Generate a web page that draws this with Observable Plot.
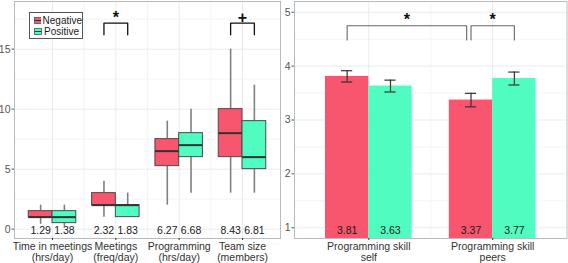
<!DOCTYPE html>
<html><head><meta charset="utf-8">
<script src="https://cdn.jsdelivr.net/npm/d3@7"></script>
<script src="https://cdn.jsdelivr.net/npm/@observablehq/plot@0.6"></script>
<style>
body{margin:0;background:#fff;font-family:"Liberation Sans",Arial,sans-serif;}
#wrap{position:relative;width:568px;height:263px;display:flex;}
#wrap svg{display:block;}
.legend{position:absolute;left:29px;top:12px;width:52px;height:25px;border:1px solid #555;background:#fff;font-size:10px;color:#1a1a1a;padding:0;box-sizing:content-box;}
.legend .row{display:flex;align-items:center;height:11px;margin-left:4px;}
.legend .row:first-child{margin-top:2px;}
.legend svg{margin-right:2px;}
</style></head>
<body><div id="wrap"></div>
<script>
// ---------- data ----------
const groups = ["Negative", "Positive"];
const colors = ["#f8556e", "#50fcbf"];

const boxCats = ["Time in meetings\n(hrs/day)", "Meetings\n(freq/day)", "Programming\n(hrs/day)", "Team size\n(members)"];
const negMin = [0.4, 1, 2, 3];
const negQ1  = [1, 2, 5.25, 6];
const negMed = [1, 2, 6.5, 8];
const negQ3  = [1.5, 3, 7.5, 10];
const negMax = [2, 4, 9, 15];
const posMin = [0.2, 1, 3, 3];
const posQ1  = [0.5, 1, 6, 5];
const posMed = [1, 2, 7, 6];
const posQ3  = [1.5, 2, 8, 9];
const posMax = [2, 3, 10, 12];
const negMean = [1.29, 2.32, 6.27, 8.43];
const posMean = [1.38, 1.83, 6.68, 6.81];
const leftTicks = [0, 5, 10, 15];
const leftSig = [{cat: 2, label: "*"}, {cat: 4, label: "+"}];

const barCats = ["Programming skill\nself", "Programming skill\npeers"];
const negVal = [3.81, 3.37];
const posVal = [3.63, 3.77];
const negSE = [0.105, 0.125];
const posSE = [0.11, 0.12];
const rightTicks = [1, 2, 3, 4, 5];
// brackets: [from (cat, side), to (cat, side)], side -1 = Negative, +1 = Positive
const rightSig = [
  {from: [1, -1], to: [2, -1.2], label: "*"},
  {from: [2, -1], to: [2, 1], label: "*"}
];

// ---------- build tables ----------
const BW = 0.375;      // dodge box width (left)
const BARW = 0.35;     // dodge bar width (right)
const boxRows = boxCats.flatMap((c, i) => [
  {pos: i + 1, side: -1, g: 0, min: negMin[i], q1: negQ1[i], med: negMed[i], q3: negQ3[i], max: negMax[i], mean: negMean[i]},
  {pos: i + 1, side: 1, g: 1, min: posMin[i], q1: posQ1[i], med: posMed[i], q3: posQ3[i], max: posMax[i], mean: posMean[i]}
]).map(d => ({...d, cx: d.pos + d.side * BW / 2, xa: d.pos + (d.side < 0 ? -BW : 0), xb: d.pos + (d.side < 0 ? 0 : BW)}));

const barRows = barCats.flatMap((c, i) => [
  {pos: i + 1, side: -1, g: 0, v: negVal[i], se: negSE[i]},
  {pos: i + 1, side: 1, g: 1, v: posVal[i], se: posSE[i]}
]).map(d => ({...d, cx: d.pos + d.side * BARW / 2, xa: d.pos + (d.side < 0 ? -BARW : 0), xb: d.pos + (d.side < 0 ? 0 : BARW)}));

const LY = [-0.78, 18.97];
const RY = [0.8, 5.2];
const minor = (ticks) => ticks.slice(0, -1).map((t, i) => (t + ticks[i + 1]) / 2);

// left brackets
const lBrTop = 17.17, lBrLeg = 16.2, lStar = 17.6;
const leftBr = leftSig.flatMap((s, k) => {
  const a = s.cat - BW / 2, b = s.cat + BW / 2;
  return [[a, lBrLeg], [a, lBrTop], [b, lBrTop], [b, lBrLeg]].map(([x, y]) => ({x, y, k}));
});
const rBrTop = 4.75, rBrLeg = 4.485, rStar = 4.855;
const rightBr = rightSig.flatMap((s, k) => {
  const a = s.from[0] + s.from[1] * BARW / 2, b = s.to[0] + s.to[1] * BARW / 2;
  return [[a, rBrLeg], [a, rBrTop], [b, rBrTop], [b, rBrLeg]].map(([x, y]) => ({x, y, k}));
});
const rightStars = rightSig.map(s => {
  const a = s.from[0] + s.from[1] * BARW / 2, b = s.to[0] + s.to[1] * BARW / 2;
  return {x: (a + b) / 2, label: s.label};
});

const gridMajor = "#e9ebeb", gridMinor = "#f3f4f4";
const style = {fontFamily: "Liberation Sans, Arial, sans-serif", fontSize: "10px", background: "#fff", overflow: "visible"};

const left = Plot.plot({
  width: 282, height: 263,
  marginLeft: 14, marginRight: 2, marginTop: 1, marginBottom: 25,
  style,
  x: {type: "linear", domain: [0.4, 4.6]},
  y: {domain: LY},
  marks: [
    Plot.ruleY(minor([-2.5, ...leftTicks, 20]), {stroke: gridMinor}),
    Plot.ruleX([1.5, 2.5, 3.5], {stroke: gridMinor}),
    Plot.ruleY(leftTicks, {stroke: gridMajor}),
    Plot.ruleX([1, 2, 3, 4], {stroke: gridMajor}),
    Plot.ruleX(boxRows, {x: "cx", y1: "q3", y2: "max", stroke: "#808080", strokeWidth: 1.6}),
    Plot.ruleX(boxRows, {x: "cx", y1: "min", y2: "q1", stroke: "#808080", strokeWidth: 1.6}),
    Plot.rect(boxRows, {x1: "xa", x2: "xb", y1: "q1", y2: "q3", fill: d => colors[d.g], stroke: "#4a4a4a", strokeWidth: 1}),
    Plot.ruleY(boxRows, {x1: "xa", x2: "xb", y: "med", stroke: "#333", strokeWidth: 2}),
    Plot.text(boxRows, {x: "cx", frameAnchor: "bottom", dy: -5, text: d => d.mean.toFixed(2), fontSize: 10.5, fill: "#1a1a1a"}),
    Plot.line(leftBr, {x: "x", y: "y", z: "k", stroke: "#111", strokeWidth: 1.3}),
    Plot.text(leftSig, {x: "cat", y: () => lStar, text: "label", fontSize: 16, fontWeight: "bold", fill: "#111", lineAnchor: "middle"}),
    Plot.frame({stroke: "#b9bcbc"}),
    Plot.axisY({ticks: leftTicks, tickFormat: d => String(d), tickSize: 2.5, tickPadding: 1.5, fontSize: 10.5, color: "#555", label: null}),
    Plot.axisX({ticks: [1, 2, 3, 4], tickFormat: i => boxCats[i - 1], tickSize: 2, tickPadding: 1.5, fontSize: 10.5, lineHeight: 1.05, color: "#333", label: null})
  ]
});

const right = Plot.plot({
  width: 286, height: 263,
  marginLeft: 12, marginRight: 1.5, marginTop: 1, marginBottom: 25,
  style,
  x: {type: "linear", domain: [0.4, 2.6]},
  y: {domain: RY},
  marks: [
    Plot.ruleY(minor(rightTicks), {stroke: gridMinor}),
    Plot.ruleX([1.5], {stroke: gridMinor}),
    Plot.ruleY(rightTicks, {stroke: gridMajor}),
    Plot.ruleX([1, 2], {stroke: gridMajor}),
    Plot.rect(barRows, {x1: "xa", x2: "xb", y1: RY[0], y2: "v", fill: d => colors[d.g]}),
    Plot.ruleX(barRows, {x: "cx", y1: d => d.v - d.se, y2: d => d.v + d.se, stroke: "#333", strokeWidth: 1.2}),
    Plot.ruleY(barRows, {x1: d => d.cx - 0.045, x2: d => d.cx + 0.045, y: d => d.v - d.se, stroke: "#333", strokeWidth: 1.2}),
    Plot.ruleY(barRows, {x1: d => d.cx - 0.045, x2: d => d.cx + 0.045, y: d => d.v + d.se, stroke: "#333", strokeWidth: 1.2}),
    Plot.text(barRows, {x: "cx", frameAnchor: "bottom", dy: -5, text: d => d.v.toFixed(2), fontSize: 10.5, fill: "#1a1a1a"}),
    Plot.line(rightBr, {x: "x", y: "y", z: "k", stroke: "#666", strokeWidth: 1.1}),
    Plot.text(rightStars, {x: "x", y: () => rStar, text: "label", fontSize: 16, fontWeight: "bold", fill: "#111", lineAnchor: "middle"}),
    Plot.frame({stroke: "#b9bcbc"}),
    Plot.axisY({ticks: rightTicks, tickFormat: d => String(d), tickSize: 2.5, tickPadding: 1.5, fontSize: 10.5, color: "#555", label: null}),
    Plot.axisX({ticks: [1, 2], tickFormat: i => barCats[i - 1], tickSize: 2, tickPadding: 1.5, fontSize: 10.5, lineHeight: 1.05, color: "#333", label: null})
  ]
});

const wrap = document.getElementById("wrap");
wrap.appendChild(left);
wrap.appendChild(right);

// legend (inside left panel, like the original)
const lg = document.createElement("div");
lg.className = "legend";
groups.forEach((g, i) => {
  const row = document.createElement("div");
  row.className = "row";
  row.innerHTML = `<svg width="8" height="7"><rect x="0.5" y="0.5" width="7" height="6" fill="${colors[i]}" stroke="#555" stroke-width="0.8"/><line x1="0.5" x2="7.5" y1="3.5" y2="3.5" stroke="#333" stroke-width="1"/></svg><span>${g}</span>`;
  lg.appendChild(row);
});
wrap.appendChild(lg);
</script>
</body></html>
